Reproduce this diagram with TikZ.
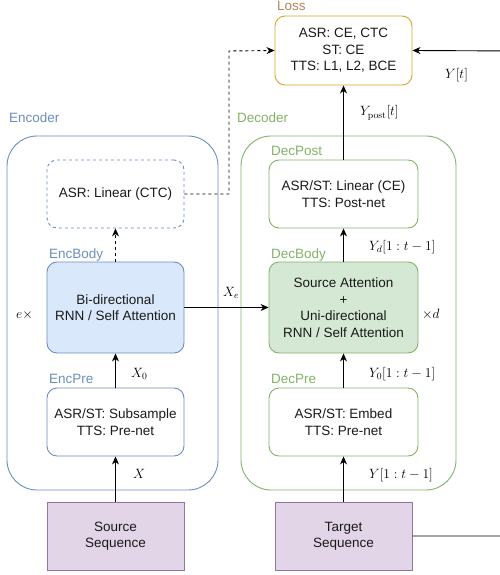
\RequirePackage{fix-cm}
\documentclass[tikz,border=0pt]{standalone}
\usepackage[no-math]{fontspec}
\setmainfont{Liberation Sans}
\usetikzlibrary{arrows.meta}
\definecolor{bluedraw}{HTML}{6C8EBF}
\definecolor{bluefill}{HTML}{DAE8FC}
\definecolor{greendraw}{HTML}{82B366}
\definecolor{greenfill}{HTML}{D5E8D4}
\definecolor{purpdraw}{HTML}{9673A6}
\definecolor{purpfill}{HTML}{E1D5E7}
\definecolor{lossdraw}{HTML}{D8A62C}
\definecolor{losstext}{HTML}{B5855A}
\definecolor{txt}{HTML}{1A1A1A}
\tikzset{
  blk/.style={draw, rounded corners=10pt, align=center, inner sep=0pt, line width=0.9pt,
    font=\fontsize{13.5}{16.5}\selectfont, text=txt, minimum height=68pt},
  encblk/.style={blk, draw=bluedraw, minimum width=137pt},
  decblk/.style={blk, draw=greendraw, minimum width=149pt},
  seqblk/.style={blk, rounded corners=0pt, draw=purpdraw, fill=purpfill, minimum width=137pt},
  container/.style={draw, rounded corners=30pt, line width=0.9pt, inner sep=0pt, minimum height=354pt},
  lbl/.style={anchor=base west, inner sep=0pt, font=\fontsize{13.5}{16}\selectfont},
  mlbl/.style={anchor=base west, inner sep=0pt, font=\fontsize{13.5}{16}\selectfont},
  arr/.style={-{Stealth[length=8pt,width=7pt,inset=2.5pt]}, line width=0.9pt},
}
\begin{document}
\begin{tikzpicture}[x=1pt,y=-1pt]
\clip (0,0) rectangle (500,575);
\fill[white] (0,0) rectangle (500,575);
% containers
\node[container, draw=bluedraw, minimum width=211pt] (enc) at (112.5,313) {};
\node[container, draw=greendraw, minimum width=215pt] (dec) at (348.5,313) {};
\node[lbl, text=bluedraw] (encl) at (9,123) {Encoder};
\node[lbl, text=greendraw] (decl) at (237,123) {Decoder};
% loss
\node[blk, draw=lossdraw, minimum width=137pt, minimum height=69pt] (loss) at (343.5,50.5)
  {ASR: CE, CTC\\ST: CE\\TTS: L1, L2, BCE};
\node[lbl, text=losstext] (lossl) at (277,10.5) {Loss};
% encoder blocks
\node[encblk, dashed, dash pattern=on 3pt off 3pt] (ctc) at (115.5,194) {ASR: Linear (CTC)};
\node[encblk, fill=bluefill, minimum height=91pt] (encbody) at (115.5,307.5) {Bi-directional\\RNN / Self Attention};
\node[lbl, text=bluedraw] (encbodyl) at (49,258) {EncBody};
\node[encblk] (encpre) at (115.5,422) {ASR/ST: Subsample\\TTS: Pre-net};
\node[lbl, text=bluedraw] (encprel) at (49,383) {EncPre};
\node[seqblk] (src) at (115.5,536) {Source\\Sequence};
% decoder blocks
\node[decblk] (decpost) at (343.5,194) {ASR/ST: Linear (CE)\\TTS: Post-net};
\node[lbl, text=greendraw] (decpostl) at (271,155) {DecPost};
\node[decblk, fill=greenfill, minimum height=91pt] (decbody) at (343.5,307.5)
  {Source Attention\\+\\Uni-directional\\RNN / Self Attention};
\node[lbl, text=greendraw] (decbodyl) at (271,258) {DecBody};
\node[decblk] (decpre) at (343.5,422) {ASR/ST: Embed\\TTS: Pre-net};
\node[lbl, text=greendraw] (decprel) at (271,383) {DecPre};
\node[seqblk] (tgt) at (343.5,536) {Target\\Sequence};
% repeat labels
\node[mlbl] (ex) at (16,318) {$e\times$};
\node[mlbl] (xd) at (422,318) {$\times d$};
% connectors
\draw[arr] (src.north) -- (encpre.south);
\draw[arr] (encpre.north) -- (encbody.south);
\draw[arr, dashed, dash pattern=on 3pt off 3pt] (encbody.north) -- (ctc.south);
\coordinate (c1) at (229,194);
\coordinate (c2) at (229,51);
\draw[arr, dashed, dash pattern=on 3pt off 3pt] (ctc.east) -- (c1) -- (c2) -- (loss.west);
\draw[arr] (tgt.north) -- (decpre.south);
\draw[arr] (decpre.north) -- (decbody.south);
\draw[arr] (decbody.north) -- (decpost.south);
\draw[arr] (decpost.north) -- (loss.south);
\draw[arr] (encbody.east) -- (decbody.west);
\coordinate (r1) at (520,536);
\coordinate (r2) at (520,51);
\draw[arr] (tgt.east) -- (r1) -- (r2) -- (loss.east);
% math labels
\node[mlbl] (lx) at (133,478) {$X$};
\node[mlbl] (lx0) at (131,377) {$X_0$};
\node[mlbl] (lxe) at (223,296) {$X_e$};
\node[mlbl] (ly) at (369,478) {$Y[1:t-1]$};
\node[mlbl] (ly0) at (369,377) {$Y_0[1:t-1]$};
\node[mlbl] (lyd) at (369,250) {$Y_d[1:t-1]$};
\node[mlbl] (lyp) at (360,116) {$Y_{\mathrm{post}}[t]$};
\node[mlbl] (lyt) at (445,79) {$Y[t]$};
\end{tikzpicture}
\end{document}
